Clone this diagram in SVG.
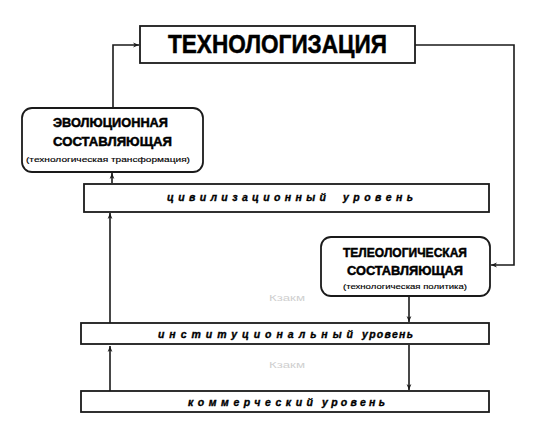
<svg xmlns="http://www.w3.org/2000/svg" width="540" height="431" viewBox="0 0 540 431">
<style>
.box{fill:#fff;stroke:#1a1a1a;stroke-width:1.8}
.ln{fill:none;stroke:#1a1a1a;stroke-width:1.6}
.t{font-family:"Liberation Sans",Arial,sans-serif;font-weight:bold;fill:#000;stroke:#000;stroke-width:0.5}
.s{font-family:"Liberation Sans",Arial,sans-serif;font-size:8px;fill:#000;stroke:#000;stroke-width:0.15}
.lv{font-family:"Liberation Sans",Arial,sans-serif;font-weight:bold;font-style:italic;font-size:10.5px;fill:#000;stroke:#000;stroke-width:0.35}
.g{font-family:"Liberation Sans",Arial,sans-serif;font-size:9px;fill:#cfcfcf}
</style>
<defs>
<marker id="a" viewBox="0 0 10 10" refX="10" refY="5" markerWidth="6" markerHeight="6" orient="auto" markerUnits="userSpaceOnUse">
<path d="M0,1 L10,5 L0,9 L3,5 z" fill="#1a1a1a"/>
</marker>
</defs>
<g id="connectors">
<path class="ln" d="M113,108 V45 H139" marker-end="url(#a)"/>
<path class="ln" d="M415,45 H514 V265 H491" marker-end="url(#a)"/>
<path class="ln" d="M112,183 V173" marker-end="url(#a)"/>
<path class="ln" d="M110,323 V213" marker-end="url(#a)"/>
<path class="ln" d="M110,391 V346" marker-end="url(#a)"/>
<path class="ln" d="M409,296 V322" marker-end="url(#a)"/>
<path class="ln" d="M409,345 V390" marker-end="url(#a)"/>
</g>
<g id="top">
<rect class="box" x="140" y="26" width="275" height="37"/>
<text class="t" x="168" y="53" font-size="26" textLength="219" lengthAdjust="spacingAndGlyphs">ТЕХНОЛОГИЗАЦИЯ</text>
</g>
<g id="evolution">
<rect class="box" x="22" y="108" width="181" height="64" rx="10"/>
<text class="t" x="53" y="127" font-size="13.5" textLength="115" lengthAdjust="spacingAndGlyphs">ЭВОЛЮЦИОННАЯ</text>
<text class="t" x="53" y="146" font-size="13.5" textLength="119" lengthAdjust="spacingAndGlyphs">СОСТАВЛЯЮЩАЯ</text>
<text class="s" x="26" y="162" textLength="164" lengthAdjust="spacingAndGlyphs">(технологическая трансформация)</text>
</g>
<g id="teleological">
<rect class="box" x="321" y="237" width="169" height="59" rx="10"/>
<text class="t" x="343" y="257" font-size="13.5" textLength="124" lengthAdjust="spacingAndGlyphs">ТЕЛЕОЛОГИЧЕСКАЯ</text>
<text class="t" x="347" y="275" font-size="13.5" textLength="116" lengthAdjust="spacingAndGlyphs">СОСТАВЛЯЮЩАЯ</text>
<text class="s" x="343" y="289" textLength="124" lengthAdjust="spacingAndGlyphs">(технологическая политика)</text>
</g>
<g id="civ">
<rect class="box" x="84" y="184" width="405" height="28"/>
<text class="lv" x="167" y="201" textLength="159">цивилизационный</text>
<text class="lv" x="343" y="201" textLength="70">уровень</text>
</g>
<g id="inst">
<rect class="box" x="81" y="323" width="408" height="21"/>
<text class="lv" x="158" y="338" textLength="195">институциональный</text>
<text class="lv" x="362" y="338" textLength="51">уровень</text>
</g>
<g id="comm">
<rect class="box" x="81" y="391" width="408" height="21"/>
<text class="lv" x="188" y="406" textLength="125">коммерческий</text>
<text class="lv" x="322" y="406" textLength="63">уровень</text>
</g>
<text class="g" x="269" y="301" textLength="36" lengthAdjust="spacingAndGlyphs">Кзакм</text>
<text class="g" x="269" y="368" textLength="36" lengthAdjust="spacingAndGlyphs">Кзакм</text>
</svg>
